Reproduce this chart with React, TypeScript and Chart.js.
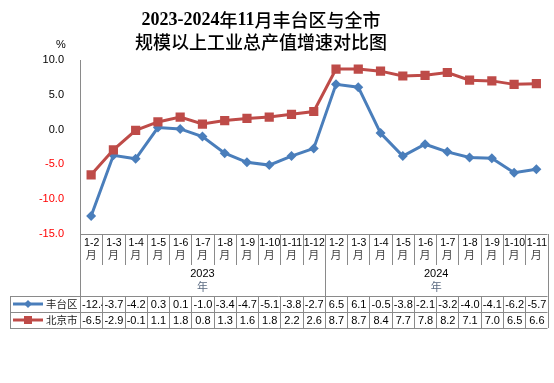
import React, { useEffect, useRef } from "react";
import { Chart, registerables } from "chart.js";

Chart.register(...registerables);

const categories = [
  "1-2", "1-3", "1-4", "1-5", "1-6", "1-7", "1-8", "1-9", "1-10", "1-11", "1-12",
  "1-2", "1-3", "1-4", "1-5", "1-6", "1-7", "1-8", "1-9", "1-10", "1-11",
];
const years = ["2023", "2024"];
const yearCounts = [11, 10];
const monthUnit = "月";
const yearUnit = "年";
const seriesNames = ["丰台区", "北京市"];
const fengtai = [-12.4, -3.7, -4.2, 0.3, 0.1, -1.0, -3.4, -4.7, -5.1, -3.8, -2.7, 6.5, 6.1, -0.5, -3.8, -2.1, -3.2, -4.0, -4.1, -6.2, -5.7];
const beijing = [-6.5, -2.9, -0.1, 1.1, 1.8, 0.8, 1.3, 1.6, 1.8, 2.2, 2.6, 8.7, 8.7, 8.4, 7.7, 7.8, 8.2, 7.1, 7.0, 6.5, 6.6];
const titleLines = ["2023-2024年11月丰台区与全市", "规模以上工业总产值增速对比图"];
const unitLabel = "%";
const yMin = -15;
const yMax = 10;
const yStep = 5;

const BLUE = "#4a7ebb";
const RED = "#be4b48";
const GRID = "#8a8a8a";
const SANS = '"Liberation Sans", Arial, "Noto Sans CJK SC", sans-serif';
const CJK = '"Noto Sans CJK SC", "Liberation Sans", sans-serif';
const LATIN_TITLE = 'bold 18px "Liberation Serif", serif';
const CJK_TITLE = '500 18px "Noto Sans CJK SC", sans-serif';

function drawMixed(ctx: CanvasRenderingContext2D, text: string, cx: number, y: number) {
  const runs: { t: string; cjk: boolean }[] = [];
  for (const ch of text) {
    const cjk = ch.charCodeAt(0) > 0x2e80;
    const last = runs[runs.length - 1];
    if (last && last.cjk === cjk) last.t += ch;
    else runs.push({ t: ch, cjk });
  }
  let total = 0;
  const widths: number[] = [];
  for (const r of runs) {
    ctx.font = r.cjk ? CJK_TITLE : LATIN_TITLE;
    const w = ctx.measureText(r.t).width;
    widths.push(w);
    total += w;
  }
  let x = cx - total / 2;
  ctx.textAlign = "left";
  runs.forEach((r, i) => {
    ctx.font = r.cjk ? CJK_TITLE : LATIN_TITLE;
    ctx.fillText(r.t, x, y);
    x += widths[i];
  });
}

const tablePlugin = {
  id: "dataTable",
  afterDraw(chart: any) {
    const ctx: CanvasRenderingContext2D = chart.ctx;
    const xs = chart.scales.x;
    const area = chart.chartArea;
    const n = categories.length;
    const step = xs.getPixelForValue(1) - xs.getPixelForValue(0);
    const edges: number[] = [];
    for (let i = 0; i < n; i++) edges.push(xs.getPixelForValue(i) - step / 2);
    edges.push(xs.getPixelForValue(n - 1) + step / 2);
    const px = (v: number) => Math.round(v) + 0.5;

    const top = area.bottom;
    const catBottom = top + 31;
    const yearBottom = top + 62;
    const row1 = yearBottom + 16;
    const row2 = row1 + 16;
    const tableLeft = 10;
    const right = edges[n];

    ctx.save();
    ctx.fillStyle = "#000";
    ctx.textBaseline = "middle";
    drawMixed(ctx, titleLines[0], 261, 20);
    drawMixed(ctx, titleLines[1], 261, 42);
    ctx.textAlign = "center";
    ctx.font = "11px " + SANS;
    ctx.fillText(unitLabel, 61, 45);

    ctx.strokeStyle = GRID;
    ctx.lineWidth = 1;
    ctx.beginPath();
    ctx.moveTo(area.left, px(top));
    ctx.lineTo(right, px(top));
    for (let i = 0; i <= n; i++) {
      ctx.moveTo(px(edges[i]), top);
      ctx.lineTo(px(edges[i]), catBottom);
    }
    let acc = 0;
    const yearEdges = [0];
    for (const c of yearCounts) {
      acc += c;
      yearEdges.push(acc);
    }
    for (const k of yearEdges) {
      ctx.moveTo(px(edges[k]), top);
      ctx.lineTo(px(edges[k]), row2);
    }
    for (let i = 0; i <= n; i++) {
      ctx.moveTo(px(edges[i]), yearBottom);
      ctx.lineTo(px(edges[i]), row2);
    }
    ctx.moveTo(px(tableLeft), yearBottom);
    ctx.lineTo(px(tableLeft), row2);
    for (const y of [yearBottom, row1, row2]) {
      ctx.moveTo(tableLeft, px(y));
      ctx.lineTo(right, px(y));
    }
    ctx.stroke();

    const clipText = (label: string, l: number, w: number, y: number) => {
      const tw = ctx.measureText(label).width;
      ctx.save();
      ctx.beginPath();
      ctx.rect(l + 1, y - 8, w - 1, 16);
      ctx.clip();
      if (tw > w - 1) {
        ctx.textAlign = "left";
        ctx.fillText(label, l + 2, y);
      } else {
        ctx.textAlign = "center";
        ctx.fillText(label, l + w / 2 + 0.5, y);
      }
      ctx.restore();
    };

    for (let i = 0; i < n; i++) {
      const cx = xs.getPixelForValue(i);
      ctx.fillStyle = "#000";
      ctx.font = "10.5px " + SANS;
      clipText(categories[i], edges[i], edges[i + 1] - edges[i], top + 9);
      ctx.fillStyle = "#444";
      ctx.font = "11px " + CJK;
      ctx.textAlign = "center";
      ctx.fillText(monthUnit, cx, top + 21);
    }
    for (let k = 0; k < years.length; k++) {
      const cx = (edges[yearEdges[k]] + edges[yearEdges[k + 1]]) / 2;
      ctx.textAlign = "center";
      ctx.fillStyle = "#000";
      ctx.font = "11px " + SANS;
      ctx.fillText(years[k], cx, catBottom + 9);
      ctx.fillStyle = "#5a6a80";
      ctx.font = "11px " + CJK;
      ctx.fillText(yearUnit, cx, catBottom + 22);
    }

    const rows = [
      { name: seriesNames[0], data: fengtai, color: BLUE, y: (yearBottom + row1) / 2, marker: "diamond" },
      { name: seriesNames[1], data: beijing, color: RED, y: (row1 + row2) / 2, marker: "square" },
    ];
    for (const r of rows) {
      ctx.strokeStyle = r.color;
      ctx.lineWidth = 3;
      ctx.beginPath();
      ctx.moveTo(13, r.y);
      ctx.lineTo(43, r.y);
      ctx.stroke();
      ctx.fillStyle = r.color;
      ctx.beginPath();
      if (r.marker === "diamond") {
        ctx.moveTo(28, r.y - 4);
        ctx.lineTo(32, r.y);
        ctx.lineTo(28, r.y + 4);
        ctx.lineTo(24, r.y);
        ctx.closePath();
      } else {
        ctx.rect(24, r.y - 4, 8, 8);
      }
      ctx.fill();
      ctx.fillStyle = "#222";
      ctx.font = "10.5px " + CJK;
      ctx.textAlign = "left";
      ctx.fillText(r.name, 46, r.y + 0.5);
      ctx.font = "11px " + SANS;
      ctx.fillStyle = "#000";
      for (let i = 0; i < n; i++) {
        clipText(r.data[i].toFixed(1), edges[i], edges[i + 1] - edges[i], r.y + 0.5);
      }
    }
    ctx.restore();
  },
};

export default function App() {
  const ref = useRef<HTMLCanvasElement>(null);
  useEffect(() => {
    document.body.style.margin = "0";
    const canvas = ref.current;
    if (!canvas) return;
    const chart = new Chart(canvas, {
      type: "line",
      data: {
        labels: categories.map((c, i) => `${c}#${i}`),
        datasets: [
          {
            label: seriesNames[0],
            data: fengtai,
            borderColor: BLUE,
            backgroundColor: BLUE,
            borderWidth: 3,
            pointStyle: "rectRot",
            pointRadius: 5,
            pointBorderWidth: 0,
            pointBackgroundColor: BLUE,
            tension: 0,
            order: 2,
          },
          {
            label: seriesNames[1],
            data: beijing,
            borderColor: RED,
            backgroundColor: RED,
            borderWidth: 3,
            pointStyle: "rect",
            pointRadius: 6.5,
            pointBorderWidth: 0,
            pointBackgroundColor: RED,
            tension: 0,
            order: 1,
          },
        ],
      },
      options: {
        animation: false,
        responsive: false,
        layout: { padding: { left: 0, right: 2, top: 60, bottom: 149 } },
        plugins: {
          legend: { display: false },
          title: { display: false },
          tooltip: { enabled: false },
        },
        scales: {
          x: { type: "category", display: false, offset: true },
          y: {
            min: yMin,
            max: yMax,
            ticks: {
              stepSize: yStep,
              padding: 8,
              callback: (v: any) => Number(v).toFixed(1),
              color: (c: any) => (c.tick && c.tick.value < 0 ? "#ff0000" : "#000"),
              font: { family: SANS, size: 11 },
            },
            grid: { display: false },
            border: { display: true, color: GRID, width: 1 },
            afterFit: (s: any) => {
              s.width = 80;
            },
          },
        },
      },
      plugins: [tablePlugin],
    });
    return () => chart.destroy();
  }, []);
  return (
    <div style={{ position: "fixed", left: 0, top: 0, width: 554, height: 383, background: "#fff" }}>
      <canvas ref={ref} width={554} height={383} />
    </div>
  );
}
